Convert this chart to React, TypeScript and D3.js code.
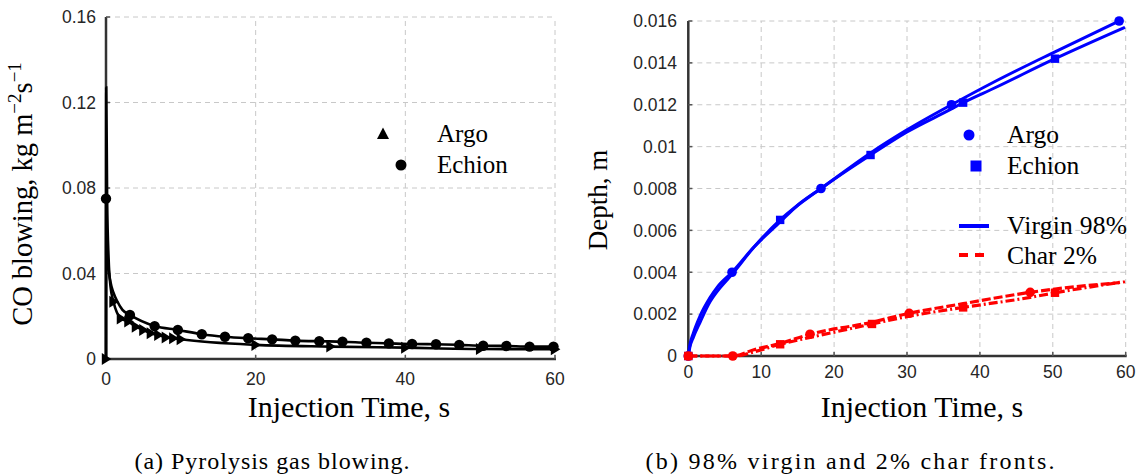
import React from "react";
import * as d3 from "d3";

// ---------- Left panel data (CO blowing) ----------
const echionMarkT = [0, 3.2, 6.5, 9.6, 12.8, 15.9, 19.0, 22.2, 25.3, 28.5, 31.6, 34.8, 37.8, 40.9, 44.1, 47.2, 50.4, 53.5, 56.6, 59.8];
const echionMarkV = [0.075, 0.0206, 0.0154, 0.0136, 0.0116, 0.0104, 0.0097, 0.0092, 0.0086, 0.0083, 0.0081, 0.0076, 0.0073, 0.0070, 0.0069, 0.0066, 0.0062, 0.0061, 0.0058, 0.0058];
const echionLineT = [0, 0.02, 0.1, 0.3, 0.6, 1.0, 1.5, 2.2, 3.2, 6.5, 9.6, 12.8, 15.9, 19.0, 22.2, 25.3, 28.5, 31.6, 34.8, 37.8, 40.9, 44.1, 47.2, 50.4, 53.5, 56.6, 59.8];
const echionLineV = [0, 0.075, 0.058, 0.044, 0.036, 0.031, 0.027, 0.023, 0.0206, 0.0154, 0.0136, 0.0116, 0.0104, 0.0097, 0.0092, 0.0086, 0.0083, 0.0081, 0.0076, 0.0073, 0.0070, 0.0069, 0.0066, 0.0062, 0.0061, 0.0058, 0.0058];

const argoMarkT = [0, 1, 2, 3, 4, 5, 6, 7, 8, 9, 10, 20, 30, 40, 50, 60];
const argoMarkV = [0, 0.0268, 0.019, 0.0175, 0.0151, 0.0136, 0.012, 0.0112, 0.0101, 0.0097, 0.0092, 0.0066, 0.0058, 0.0053, 0.0047, 0.0046];
const argoLineT = [0, 0.03, 0.15, 0.35, 0.6, 1, 2, 3, 4, 5, 6, 7, 8, 9, 10, 20, 30, 40, 50, 60];
const argoLineV = [0, 0.127, 0.075, 0.047, 0.034, 0.0268, 0.019, 0.0175, 0.0151, 0.0136, 0.012, 0.0112, 0.0101, 0.0097, 0.0092, 0.0066, 0.0058, 0.0053, 0.0047, 0.0046];

const leftYTicks = [0, 0.04, 0.08, 0.12, 0.16];
const leftYLabels = ["0", "0.04", "0.08", "0.12", "0.16"];
const leftXTicks = [0, 20, 40, 60];

// ---------- Right panel data (Depth) ----------
const argoVirginMarkT = [0, 6.0, 18.2, 36.1, 59.1];
const argoVirginMarkV = [0, 0.004, 0.008, 0.012, 0.016];
const argoVirginLineT = [0, 0.2, 0.7, 1.6, 3, 4, 6, 9, 12.6, 15, 18.2, 25, 30, 36.1, 42, 50.3, 59.1];
const argoVirginLineV = [0, 0.0005, 0.0011, 0.0019, 0.0028, 0.0033, 0.004, 0.0052, 0.0064, 0.0072, 0.008, 0.0097, 0.0108, 0.012, 0.0131, 0.01453, 0.016];

const echionVirginMarkT = [0, 12.6, 25.0, 37.7, 50.3];
const echionVirginMarkV = [0, 0.0065, 0.0096, 0.0121, 0.0142];
const echionVirginLineT = [0, 0.2, 0.7, 1.6, 3, 4, 6, 9, 12.6, 18.2, 25, 30, 36.1, 37.7, 42, 50.3, 59.9];
const echionVirginLineV = [0, 0.0004, 0.0009, 0.0016, 0.0026, 0.0031, 0.0039, 0.0052, 0.0065, 0.008, 0.0096, 0.0107, 0.0118, 0.0121, 0.0128, 0.0142, 0.0157];

const argoCharMarkT = [0, 6.1, 16.7, 30.3, 46.9];
const argoCharMarkV = [0, 0, 0.00104, 0.00204, 0.00304];
const argoCharLineT = [0, 6.1, 9, 12.6, 16.7, 25, 30.3, 37.7, 46.9, 50.3, 59.1];
const argoCharLineV = [0, 0, 0.0003, 0.0006, 0.00104, 0.0016, 0.00204, 0.0025, 0.00304, 0.0032, 0.0035];

const echionCharMarkT = [0, 12.6, 25.2, 37.7, 50.3];
const echionCharMarkV = [0, 0.00056, 0.00153, 0.00232, 0.00302];
const echionCharLineT = [0, 6.5, 9, 12.6, 18.2, 25.2, 30.3, 37.7, 46.9, 50.3, 59.9];
const echionCharLineV = [0, 0, 0.0002, 0.00056, 0.001, 0.00153, 0.0019, 0.00232, 0.0028, 0.00302, 0.00355];

const rightYTicks = [0, 0.002, 0.004, 0.006, 0.008, 0.01, 0.012, 0.014, 0.016];
const rightYLabels = ["0", "0.002", "0.004", "0.006", "0.008", "0.01", "0.012", "0.014", "0.016"];
const rightXTicks = [0, 10, 20, 30, 40, 50, 60];

const SERIF = "Liberation Serif, Times New Roman, serif";
const SANS = "Liberation Sans, Arial, Helvetica, sans-serif";
const AXIS = "#333";
const GRID = "#c8c8c8";

const serif = (size: number): React.CSSProperties => ({ fontFamily: SERIF, fontSize: size });
const sans = (size: number): React.CSSProperties => ({ fontFamily: SANS, fontSize: size });

const zip = (t: number[], v: number[]) => t.map((x, i) => [x, v[i]] as [number, number]);

export default function App() {
  const xL = d3.scaleLinear().domain([0, 60]).range([106, 555]);
  const yL = d3.scaleLinear().domain([0, 0.16]).range([359, 17]);
  const xR = d3.scaleLinear().domain([0, 60]).range([688.3, 1125.7]);
  const yR = d3.scaleLinear().domain([0, 0.016]).range([356, 21]);

  const lineL = d3.line<[number, number]>().x((d) => xL(d[0])).y((d) => yL(d[1])).curve(d3.curveMonotoneX);
  const lineR = d3.line<[number, number]>().x((d) => xR(d[0])).y((d) => yR(d[1])).curve(d3.curveMonotoneX);

  const tri = (cx: number, cy: number, s = 6) => `M${cx - s * 0.7},${cy - s} L${cx + s * 0.9},${cy} L${cx - s * 0.7},${cy + s} Z`;

  return (
    <svg width={1136} height={474} style={{ position: "absolute", left: 0, top: 0, background: "#fff" }}>
      <rect x={0} y={0} width={1136} height={474} fill="#fff" />
      {/* ============ LEFT PANEL ============ */}
      <g>
        {leftYTicks.slice(1).map((t) => (
          <line key={"lgy" + t} x1={xL(0)} x2={xL(60)} y1={yL(t)} y2={yL(t)} stroke={GRID} strokeDasharray="5,4" />
        ))}
        {leftXTicks.slice(1).map((t) => (
          <line key={"lgx" + t} x1={xL(t)} x2={xL(t)} y1={yL(0)} y2={yL(0.16)} stroke={GRID} strokeDasharray="5,4" />
        ))}
        <line x1={xL(0)} x2={xL(0)} y1={yL(0) + 1} y2={yL(0.16)} stroke={AXIS} strokeWidth={2.5} />
        <line x1={xL(0)} x2={xL(60) + 1} y1={yL(0)} y2={yL(0)} stroke={AXIS} strokeWidth={2.5} />
        {leftYTicks.map((t, i) => (
          <g key={"lty" + t}>
            <line x1={xL(0)} x2={xL(0) + 4} y1={yL(t)} y2={yL(t)} stroke="#555" strokeWidth={1.5} />
            <text x={96} y={yL(t)} dy="0.36em" textAnchor="end" style={sans(17.5)} fill="#262626">
              {leftYLabels[i]}
            </text>
          </g>
        ))}
        {leftXTicks.map((t) => (
          <g key={"ltx" + t}>
            <line x1={xL(t)} x2={xL(t)} y1={yL(0)} y2={yL(0) - 4} stroke="#555" strokeWidth={1.5} />
            <text x={xL(t)} y={379} dy="0.36em" textAnchor="middle" style={sans(17.5)} fill="#262626">
              {t}
            </text>
          </g>
        ))}
        <path d={lineL(zip(argoLineT, argoLineV)) || ""} fill="none" stroke="#000" strokeWidth={2.6} />
        <path d={lineL(zip(echionLineT, echionLineV)) || ""} fill="none" stroke="#000" strokeWidth={2.6} />
        {argoMarkT.map((t, i) => (
          <path key={"am" + i} d={tri(xL(t), yL(argoMarkV[i]))} fill="#000" />
        ))}
        {echionMarkT.map((t, i) => (
          <circle key={"em" + i} cx={xL(t)} cy={yL(echionMarkV[i])} r={5.2} fill="#000" />
        ))}
        {/* legend */}
        <path d="M377,139 L383,127.5 L389,139 Z" fill="#000" />
        <text x={437} y={142} style={serif(25)} fill="#000">Argo</text>
        <circle cx={401} cy={165} r={5.5} fill="#000" />
        <text x={437} y={173} style={serif(25)} fill="#000">Echion</text>
        {/* axis labels */}
        <text x={349} y={417} textAnchor="middle" style={serif(30)}>
          Injection Time, s
        </text>
        <text transform="translate(32,194) rotate(-90)" textAnchor="middle" style={serif(28.5)}>
          CO blowing, kg m<tspan dy={-11} style={{ fontSize: 19 }}>−2</tspan><tspan dy={11}>s</tspan><tspan dy={-11} style={{ fontSize: 19 }}>−1</tspan>
        </text>
        <text x={272} y={469} textAnchor="middle" style={serif(24)} textLength={275} lengthAdjust="spacing">
          (a) Pyrolysis gas blowing.
        </text>
      </g>

      {/* ============ RIGHT PANEL ============ */}
      <g>
        {rightYTicks.slice(1).map((t) => (
          <line key={"rgy" + t} x1={xR(0)} x2={xR(60)} y1={yR(t)} y2={yR(t)} stroke={GRID} strokeDasharray="5,4" />
        ))}
        {rightXTicks.slice(1).map((t) => (
          <line key={"rgx" + t} x1={xR(t)} x2={xR(t)} y1={yR(0)} y2={yR(0.016)} stroke={GRID} strokeDasharray="5,4" />
        ))}
        <line x1={xR(0)} x2={xR(0)} y1={yR(0) + 1} y2={yR(0.016)} stroke={AXIS} strokeWidth={2.5} />
        <line x1={xR(0)} x2={xR(60) + 1} y1={yR(0)} y2={yR(0)} stroke={AXIS} strokeWidth={2.5} />
        {rightYTicks.map((t, i) => (
          <g key={"rty" + t}>
            <line x1={xR(0)} x2={xR(0) + 4} y1={yR(t)} y2={yR(t)} stroke="#555" strokeWidth={1.5} />
            <text x={677} y={yR(t)} dy="0.36em" textAnchor="end" style={sans(17.5)} fill="#262626">
              {rightYLabels[i]}
            </text>
          </g>
        ))}
        {rightXTicks.map((t) => (
          <g key={"rtx" + t}>
            <line x1={xR(t)} x2={xR(t)} y1={yR(0)} y2={yR(0) - 4} stroke="#555" strokeWidth={1.5} />
            <text x={xR(t)} y={372} dy="0.36em" textAnchor="middle" style={sans(17.5)} fill="#262626">
              {t}
            </text>
          </g>
        ))}
        <path d={lineR(zip(argoVirginLineT, argoVirginLineV)) || ""} fill="none" stroke="#0000ff" strokeWidth={3} />
        <path d={lineR(zip(echionVirginLineT, echionVirginLineV)) || ""} fill="none" stroke="#0000ff" strokeWidth={3} />
        <path d={lineR(zip(argoCharLineT, argoCharLineV)) || ""} fill="none" stroke="#ff0000" strokeWidth={3.2} strokeDasharray="9,3" />
        <path d={lineR(zip(echionCharLineT, echionCharLineV)) || ""} fill="none" stroke="#ff0000" strokeWidth={3.2} strokeDasharray="9,3,2,3" />
        {argoVirginMarkT.map((t, i) => (
          <circle key={"avm" + i} cx={xR(t)} cy={yR(argoVirginMarkV[i])} r={4.8} fill="#0000ff" />
        ))}
        {echionVirginMarkT.map((t, i) => (
          <rect key={"evm" + i} x={xR(t) - 4.2} y={yR(echionVirginMarkV[i]) - 4.2} width={8.4} height={8.4} fill="#0000ff" />
        ))}
        {argoCharMarkT.map((t, i) => (
          <circle key={"acm" + i} cx={xR(t)} cy={yR(argoCharMarkV[i])} r={4.8} fill="#ff0000" />
        ))}
        {echionCharMarkT.map((t, i) => (
          <rect key={"ecm" + i} x={xR(t) - 4.2} y={yR(echionCharMarkV[i]) - 4.2} width={8.4} height={8.4} fill="#ff0000" />
        ))}
        {/* legend */}
        <circle cx={969} cy={135} r={5.5} fill="#0000ff" />
        <text x={1007} y={143} style={serif(25.5)}>Argo</text>
        <rect x={970.5} y={160.5} width={11} height={11} fill="#0000ff" />
        <text x={1007} y={174} style={serif(25.5)}>Echion</text>
        <line x1={959} x2={989} y1={226} y2={226} stroke="#0000ff" strokeWidth={4} />
        <text x={1007} y={234} style={serif(25.5)} textLength={120} lengthAdjust="spacing">Virgin 98%</text>
        <line x1={959} x2={984} y1={255} y2={255} stroke="#ff0000" strokeWidth={4} strokeDasharray="9,7" />
        <text x={1007} y={264} style={serif(25.5)}>Char 2%</text>
        {/* axis labels */}
        <text x={922} y={417} textAnchor="middle" style={serif(30)}>
          Injection Time, s
        </text>
        <text transform="translate(607,200) rotate(-90)" textAnchor="middle" style={serif(27)}>
          Depth, m
        </text>
        <text x={850} y={469} textAnchor="middle" style={serif(24)} textLength={409} lengthAdjust="spacing">
          (b) 98% virgin and 2% char fronts.
        </text>
      </g>
    </svg>
  );
}
